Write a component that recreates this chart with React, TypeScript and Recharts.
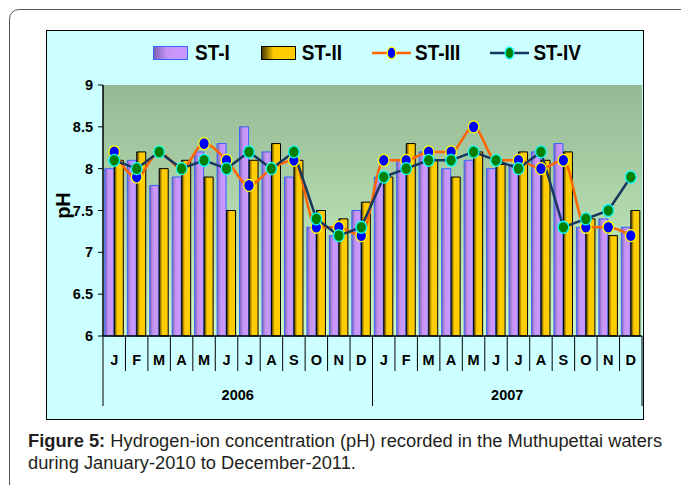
import React from "react";
import { ComposedChart, Bar, Line, XAxis, YAxis, CartesianGrid } from "recharts";

const MONTHS = ["J", "F", "M", "A", "M", "J", "J", "A", "S", "O", "N", "D"];
const YEARS = ["2006", "2007"];
const SERIES = ["ST-I", "ST-II", "ST-III", "ST-IV"];
const Y_TICKS = [6, 6.5, 7, 7.5, 8, 8.5, 9];

// monthly pH per station, Jan 2006 .. Dec 2007
const ST1 = [
  8.0, 8.1, 7.8, 7.9, 8.2, 8.3, 8.5, 8.2, 7.9, 7.3, 7.2, 7.5,
  7.9, 8.1, 8.2, 8.0, 8.1, 8.0, 8.05, 8.2, 8.3, 7.3, 7.4, 7.3,
];
const ST2 = [
  8.1, 8.2, 8.0, 8.1, 7.9, 7.5, 8.1, 8.3, 8.1, 7.5, 7.4, 7.6,
  7.9, 8.3, 8.1, 7.9, 8.2, 8.05, 8.2, 8.1, 8.2, 7.4, 7.2, 7.5,
];
const ST3 = [
  8.2, 7.9, 8.2, 8.0, 8.3, 8.1, 7.8, 8.0, 8.1, 7.3, 7.3, 7.2,
  8.1, 8.1, 8.2, 8.2, 8.5, 8.1, 8.1, 8.0, 8.1, 7.3, 7.3, 7.2,
];
const ST4 = [
  8.1, 8.0, 8.2, 8.0, 8.1, 8.0, 8.2, 8.0, 8.2, 7.4, 7.2, 7.3,
  7.9, 8.0, 8.1, 8.1, 8.2, 8.1, 8.0, 8.2, 7.3, 7.4, 7.5, 7.9,
];

const rows = YEARS.flatMap((yr, yi) =>
  MONTHS.map((m, mi) => {
    const i = yi * 12 + mi;
    return { key: `${yr}-${mi}`, month: m, st1: ST1[i], st2: ST2[i], st3: ST3[i], st4: ST4[i] };
  })
);

const FONT = '"Liberation Sans", Arial, sans-serif';
const CHART_W = 596;
const CHART_H = 388;
const Y_AXIS_W = 56;
const PLOT_W = CHART_W - Y_AXIS_W - 1;
const BAND = PLOT_W / rows.length;

const MonthTick = (props: any) => {
  const { x, y } = props;
  const i = props.payload?.index ?? props.index;
  const half = BAND / 2;
  const first = i % 12 === 0;
  return (
    <g>
      <line x1={x - half} x2={x - half} y1={y} y2={y + (first ? 70 : 35)} stroke="#000" strokeWidth={1} />
      {i === rows.length - 1 && (
        <line x1={x + half} x2={x + half} y1={y} y2={y + 70} stroke="#000" strokeWidth={1} />
      )}
      <text x={x} y={y + 28.5} textAnchor="middle" fontFamily={FONT} fontWeight="bold" fontSize={14.5} fill="#000">
        {rows[i].month}
      </text>
      {i % 12 === 5 && (
        <text x={x + half} y={y + 63.5} textAnchor="middle" fontFamily={FONT} fontWeight="bold" fontSize={14.5} fill="#000">
          {YEARS[Math.floor(i / 12)]}
        </text>
      )}
    </g>
  );
};

const makeDot = (fill: string, stroke: string) => (props: any) => {
  const { cx, cy, index } = props;
  if (cx == null || cy == null) return <g key={index} />;
  return <ellipse key={index} cx={cx} cy={cy} rx={5.3} ry={6} fill={fill} stroke={stroke} strokeWidth={1.3} />;
};

const PhLabel = (props: any) => {
  const vb = props.viewBox || { x: 0, y: 0, height: 0 };
  const cx = vb.x + 16;
  const cy = vb.y + vb.height / 2 - 5;
  return (
    <text
      x={cx}
      y={cy}
      transform={`rotate(-90 ${cx} ${cy})`}
      textAnchor="middle"
      dominantBaseline="central"
      fontFamily={FONT}
      fontWeight="bold"
      fontSize={20}
      fill="#000"
    >
      pH
    </text>
  );
};

const BarSwatch = ({ bg, border }: { bg: string; border: string }) => (
  <div style={{ width: 33, height: 12, background: bg, border: `1.5px solid ${border}` }} />
);

const LineSwatch = ({ line, fill, stroke }: { line: string; fill: string; stroke: string }) => (
  <svg width={39} height={14}>
    <line x1={0} x2={39} y1={7} y2={7} stroke={line} strokeWidth={2.5} />
    <ellipse cx={19.5} cy={7} rx={4.3} ry={5.8} fill={fill} stroke={stroke} strokeWidth={1.3} />
  </svg>
);

const legendText: React.CSSProperties = {
  fontFamily: FONT,
  fontWeight: "bold",
  fontSize: 19,
  lineHeight: "20px",
  color: "#000",
  display: "inline-block",
  transform: "scaleY(1.12)",
};

export default function App() {
  return (
    <div style={{ position: "relative", width: 681, height: 485, background: "#fff", overflow: "hidden", fontFamily: FONT }}>
      <style>{`body{margin:0}`}</style>
      <div
        style={{
          position: "absolute",
          left: 9,
          top: 9,
          width: 700,
          height: 500,
          border: "1.5px solid #555",
          borderRadius: 10,
        }}
      />
      <div
        style={{
          position: "absolute",
          left: 46,
          top: 30,
          width: 598,
          height: 390,
          boxSizing: "border-box",
          border: "1.5px solid #000",
          background: "#CCFFFF",
        }}
      />
      <div style={{ position: "absolute", left: 47, top: 31 }}>
        <ComposedChart
          width={CHART_W}
          height={CHART_H}
          data={rows}
          margin={{ top: 54, right: 1, bottom: 0, left: 0 }}
          barCategoryGap={1.8}
          barGap={0.5}
        >
          <defs>
            <linearGradient id="plotBg" x1="0" y1="0" x2="0" y2="1">
              <stop offset="0%" stopColor="#95B895" />
              <stop offset="100%" stopColor="#CDF8C4" />
            </linearGradient>
            <linearGradient id="st1Fill" x1="0" y1="0" x2="1" y2="0">
              <stop offset="0%" stopColor="#7E62B8" />
              <stop offset="40%" stopColor="#C595F5" />
              <stop offset="100%" stopColor="#CC99FF" />
            </linearGradient>
            <linearGradient id="st2Fill" x1="0" y1="0" x2="1" y2="0">
              <stop offset="0%" stopColor="#4A3800" />
              <stop offset="35%" stopColor="#FFCC00" />
              <stop offset="100%" stopColor="#FFCC00" />
            </linearGradient>
          </defs>
          <CartesianGrid fill="url(#plotBg)" fillOpacity={1} horizontal={false} vertical={false} />
          <XAxis
            dataKey="key"
            interval={0}
            height={83}
            tickSize={0}
            tickMargin={0}
            tickLine={false}
            axisLine={{ stroke: "#000", strokeWidth: 1.5 }}
            tick={<MonthTick />}
          />
          <XAxis xAxisId="top" dataKey="key" orientation="top" height={0} tick={false} tickLine={false} axisLine={{ stroke: "#000", strokeWidth: 1.5 }} />
          <YAxis
            domain={[6, 9]}
            ticks={Y_TICKS}
            width={Y_AXIS_W}
            tickSize={5}
            tickMargin={5}
            axisLine={{ stroke: "#000", strokeWidth: 1.5 }}
            tickLine={{ stroke: "#000" }}
            tick={{ fontFamily: FONT, fontWeight: "bold", fontSize: 14.5, fill: "#000" }}
            label={<PhLabel />}
          />
          <YAxis yAxisId="right" orientation="right" domain={[6, 9]} width={0} tick={false} tickLine={false} axisLine={{ stroke: "#000", strokeWidth: 1.5 }} />
          <Bar dataKey="st1" name={SERIES[0]} fill="url(#st1Fill)" stroke="#3366FF" strokeWidth={1} isAnimationActive={false} />
          <Bar dataKey="st2" name={SERIES[1]} fill="url(#st2Fill)" stroke="#000" strokeWidth={1} isAnimationActive={false} />
          <Line
            dataKey="st3"
            name={SERIES[2]}
            type="monotone"
            stroke="#FF6600"
            strokeWidth={2.5}
            dot={makeDot("#0000FF", "#FFFF00")}
            activeDot={false}
            isAnimationActive={false}
          />
          <Line
            dataKey="st4"
            name={SERIES[3]}
            type="linear"
            stroke="#17375E"
            strokeWidth={2.5}
            dot={makeDot("#008000", "#00FFFF")}
            activeDot={false}
            isAnimationActive={false}
          />
        </ComposedChart>
      </div>
      <div style={{ position: "absolute", left: 153, top: 43, display: "flex", alignItems: "center", height: 20 }}>
        <BarSwatch bg="linear-gradient(to right, #7E62B8, #C595F5 40%, #CC99FF)" border="#3366FF" />
        <span style={{ ...legendText, marginLeft: 7 }}>{SERIES[0]}</span>
        <div style={{ marginLeft: 31 }}>
          <BarSwatch bg="linear-gradient(to right, #4A3800, #FFCC00 35%, #FFCC00)" border="#000" />
        </div>
        <span style={{ ...legendText, marginLeft: 6 }}>{SERIES[1]}</span>
        <div style={{ marginLeft: 30, display: "flex" }}>
          <LineSwatch line="#FF6600" fill="#0000FF" stroke="#FFFF00" />
        </div>
        <span style={{ ...legendText, marginLeft: 4 }}>{SERIES[2]}</span>
        <div style={{ marginLeft: 30, display: "flex" }}>
          <LineSwatch line="#17375E" fill="#008000" stroke="#00FFFF" />
        </div>
        <span style={{ ...legendText, marginLeft: 4 }}>{SERIES[3]}</span>
      </div>
      <div
        style={{
          position: "absolute",
          left: 28,
          top: 430,
          fontSize: 18.3,
          lineHeight: "22px",
          color: "#231F20",
          whiteSpace: "nowrap",
        }}
      >
        <b>Figure 5:</b> Hydrogen-ion concentration (pH) recorded in the Muthupettai waters
        <br />
        during January-2010 to December-2011.
      </div>
    </div>
  );
}
